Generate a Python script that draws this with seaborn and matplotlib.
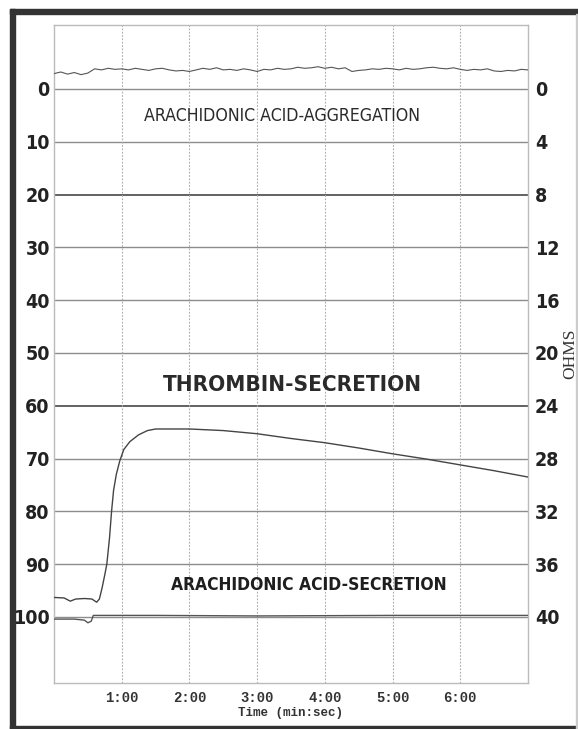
import numpy as np
import pandas as pd
import matplotlib
matplotlib.use("Agg")
import matplotlib.pyplot as plt
from matplotlib import font_manager as fm
from matplotlib.patches import Rectangle
import seaborn as sns

# ---------------- data ----------------
# Arachidonic acid - aggregation trace (left scale), sampled every 0.1 min
agg_time = np.round(np.arange(71) * 0.1, 2)
agg_vals = [-2.9, -3.2, -2.8, -3.1, -2.7, -3.0,
            -3.8, -3.6, -3.9, -3.7, -3.8,
            -3.6, -3.9, -3.7, -3.5, -3.8,
            -3.9, -3.6, -3.4, -3.5, -3.3,
            -3.6, -3.9, -3.7, -4.0, -3.6,
            -3.7, -3.5, -3.8, -3.6, -3.3,
            -3.7, -3.6, -3.9, -3.7, -3.8,
            -4.1, -3.9, -4.0, -4.2, -3.9,
            -4.1, -3.8, -4.0, -3.3, -3.5,
            -3.6, -3.8, -3.7, -3.9, -3.8,
            -3.6, -3.9, -3.7, -3.8, -4.0,
            -4.1, -3.9, -3.8, -4.0, -3.7,
            -3.5, -3.7, -3.6, -3.8, -3.4,
            -3.3, -3.5, -3.4, -3.7, -3.6]

# Thrombin - secretion trace
thr_time = [0.0, 0.15, 0.24, 0.32, 0.45, 0.56, 0.63, 0.67, 0.71, 0.75, 0.78,
            0.82, 0.85, 0.88, 0.92, 0.97, 1.03, 1.12, 1.25, 1.38, 1.5, 2.0,
            2.5, 3.0, 3.5, 4.0, 4.5, 5.0, 5.5, 6.0, 6.5, 7.0]
thr_vals = [96.3, 96.4, 97.0, 96.6, 96.5, 96.6, 97.2, 96.6, 94.5, 92.0, 90.0,
            85.0, 80.0, 76.0, 73.0, 70.5, 68.3, 66.8, 65.5, 64.7, 64.4, 64.4,
            64.7, 65.3, 66.2, 67.0, 68.0, 69.1, 70.1, 71.2, 72.3, 73.5]

# Arachidonic acid - secretion trace
aas_time = [0.0, 0.3, 0.45, 0.5, 0.55, 0.58, 1.5, 3.0, 5.0, 7.0]
aas_vals = [100.4, 100.4, 100.6, 101.1, 100.8, 99.7, 99.7, 99.8, 99.7, 99.7]

left_ticks = [0, 10, 20, 30, 40, 50, 60, 70, 80, 90, 100]
right_ticks = [0, 4, 8, 12, 16, 20, 24, 28, 32, 36, 40]
x_ticks = [1, 2, 3, 4, 5, 6]
x_ticklabels = ["1:00", "2:00", "3:00", "4:00", "5:00", "6:00"]

# ---------------- fonts ----------------
sns.set_style("white")
plt.rcParams["font.family"] = ["DejaVu Sans"]
COND = dict(fontfamily="DejaVu Sans", fontstretch="condensed")

fig = plt.figure(figsize=(5.78, 7.29), dpi=100)
W, H = 578, 729
ax = fig.add_axes([54 / W, 1 - 683 / H, (528 - 54) / W, (683 - 25) / H])

INK = "#2a2a2a"

# grid lines
for v in left_ticks:
    dark = v in (20, 60)
    ax.axhline(v, color="#555555" if dark else "#8c8c8c", lw=1.3 if dark else 1.0, zorder=1)
for xv in x_ticks:
    ax.axvline(xv, color="#aaaaaa", lw=0.8, ls=(0, (1.5, 1.5)), zorder=1)

sns.lineplot(x=agg_time, y=agg_vals, ax=ax, color="#555555", lw=0.8, zorder=3)
sns.lineplot(x=thr_time, y=thr_vals, ax=ax, color="#444444", lw=1.0, zorder=3)
sns.lineplot(x=aas_time, y=aas_vals, ax=ax, color="#555555", lw=1.0, zorder=3)

ax.set_xlim(0, 7)
ax.set_ylim(112.5, -12.1)

ax.set_yticks(left_ticks)
ax.set_yticklabels([str(t) for t in left_ticks], fontweight="bold", fontsize=14,
                   color="#222222", **COND)
ax.tick_params(axis="y", length=0, pad=3)

ax.set_xticks(x_ticks)
ax.set_xticklabels(x_ticklabels, fontfamily="Liberation Mono", fontweight="bold",
                   fontsize=10, color="#333333")
ax.tick_params(axis="x", length=0, pad=6)
ax.set_xlabel("Time (min:sec)", fontfamily="Liberation Mono", fontweight="bold",
              fontsize=9, color="#333333", labelpad=1)

for s in ax.spines.values():
    s.set_color("#bbbbbb")
    s.set_linewidth(1.0)

ax2 = ax.twinx()
ax2.set_ylim(112.5 * 0.4, -12.1 * 0.4)
ax2.set_yticks(right_ticks)
ax2.set_yticklabels([str(t) for t in right_ticks], fontweight="bold", fontsize=14,
                    color="#222222", **COND)
ax2.tick_params(axis="y", length=0, pad=5)
ax2.set_ylabel("OHMS", fontfamily="Liberation Serif", fontsize=12.5, color="#333333")
ax2.yaxis.set_label_coords((562 - 54) / 474, 0.5)
for s in ax2.spines.values():
    s.set_visible(False)

# annotations
t1 = ax.text(3.36, 5.1, "ARACHIDONIC ACID-AGGREGATION", ha="center", va="center",
             fontsize=14, color=INK, zorder=4, **COND)
t2 = ax.text(3.52, 56.1, "THROMBIN-SECRETION", ha="center", va="center",
             fontweight="bold", fontsize=18, color=INK, zorder=4, **COND)
t3 = ax.text(3.76, 93.9, "ARACHIDONIC ACID-SECRETION", ha="center", va="center",
             fontweight="bold", fontsize=16, color="#1e1e1e", zorder=4, **COND)

# fit annotation widths to the reference widths (pixels)
fig.canvas.draw()
r = fig.canvas.get_renderer()
for t, target in ((t1, 278), (t2, 259), (t3, 278)):
    w = t.get_window_extent(r).width
    t.set_fontsize(t.get_fontsize() * target / w)

# outer scan frame
fig.patches.append(Rectangle((10 / W, 0), 5 / W, 1 - 9 / H, transform=fig.transFigure,
                             color="#333333", zorder=10))
fig.patches.append(Rectangle((10 / W, 1 - 14 / H), 1 - 10 / W, 5 / H, transform=fig.transFigure,
                             color="#333333", zorder=10))
fig.patches.append(Rectangle((10 / W, 1 - 729 / H), 1 - 10 / W, 3 / H, transform=fig.transFigure,
                             color="#333333", zorder=10))
fig.patches.append(Rectangle((576 / W, 0), 1.5 / W, 1 - 14 / H, transform=fig.transFigure,
                             color="#cccccc", zorder=10))

fig.savefig("out.png", dpi=100, facecolor="white")
